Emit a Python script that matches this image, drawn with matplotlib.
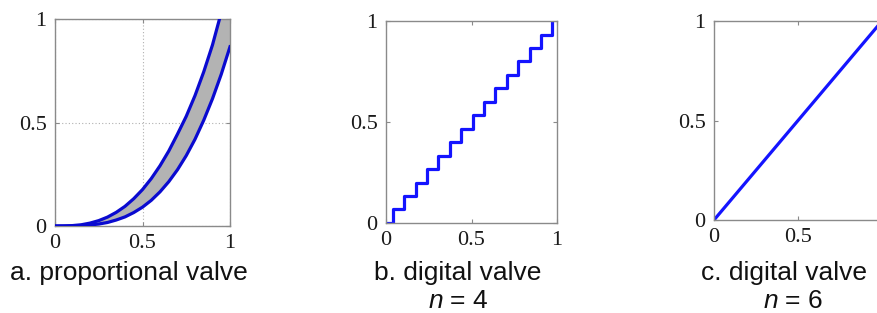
import matplotlib
matplotlib.use("Agg")
import matplotlib.pyplot as plt

plt.rcParams['mathtext.fontset'] = 'custom'
plt.rcParams['mathtext.it'] = 'Liberation Sans:italic'
plt.rcParams['mathtext.rm'] = 'Liberation Sans'

# ---- data ----
# a. proportional valve: upper / lower flow characteristic band
upper_x = [0.0, 0.05, 0.1, 0.15, 0.2, 0.25, 0.3, 0.35, 0.4, 0.45, 0.5,
           0.55, 0.6, 0.65, 0.7, 0.75, 0.8, 0.85, 0.9, 0.94]
upper_y = [0.0, 0.0003, 0.002, 0.006, 0.014, 0.026, 0.043, 0.066, 0.095, 0.132, 0.176,
           0.229, 0.291, 0.362, 0.444, 0.530, 0.630, 0.745, 0.875, 1.0]
lower_x = [0.0, 0.05, 0.1, 0.15, 0.2, 0.25, 0.3, 0.35, 0.4, 0.45, 0.5,
           0.55, 0.6, 0.65, 0.7, 0.75, 0.8, 0.85, 0.9, 0.95, 1.0]
lower_y = [0.0, 0.0001, 0.0005, 0.002, 0.005, 0.0095, 0.017, 0.029, 0.044, 0.065, 0.091,
           0.124, 0.165, 0.214, 0.272, 0.340, 0.419, 0.511, 0.615, 0.733, 0.866]

# b. digital valve n = 4 (15 steps)
step_x = [0.0, 0.04, 0.107, 0.173, 0.24, 0.307, 0.373, 0.44, 0.507, 0.573,
          0.64, 0.707, 0.773, 0.84, 0.907, 0.973]
step_y = [0.0, 0.067, 0.133, 0.2, 0.267, 0.333, 0.4, 0.467, 0.533, 0.6,
          0.667, 0.733, 0.8, 0.867, 0.933, 1.0]

# c. digital valve n = 6 (practically linear)
lin_x = [0.0, 1.0]
lin_y = [0.0, 1.0]

ticks = [0, 0.5, 1]
tick_labels = ['0', '0.5', '1']
captions = ['a. proportional valve', 'b. digital valve', 'c. digital valve']
subcaptions = ['', '$n$ = 4', '$n$ = 6']

# ---- figure ----
W, H = 877, 313
fig = plt.figure(figsize=(W / 100, H / 100), dpi=100)

def px_axes(left, right, top, bottom):
    return fig.add_axes([left / W, 1 - bottom / H, (right - left) / W, (bottom - top) / H])

axA = px_axes(55, 230, 19, 226)
axB = px_axes(386, 557, 21, 223)
axC = px_axes(714, 882, 21, 220)

spine_col = '#8a8a8a'
for ax in (axA, axB, axC):
    ax.set_xlim(0, 1)
    ax.set_ylim(0, 1)
    ax.set_xticks(ticks)
    ax.set_yticks(ticks)
    ax.set_xticklabels(tick_labels)
    ax.set_yticklabels(tick_labels)
    ax.tick_params(direction='in', length=3, width=0.8, color=spine_col,
                   top=True, right=True, labelsize=16, pad=6, labelcolor='#1a1a1a')
    for lab in ax.get_xticklabels() + ax.get_yticklabels():
        lab.set_fontfamily('Liberation Serif')
    for s in ax.spines.values():
        s.set_color(spine_col)
        s.set_linewidth(1.0)

# the x=1 label of panel c lies outside the visible (cropped) figure
axC.get_xticklabels()[-1].set_visible(False)

# panel a
axA.grid(True, linestyle=(0, (1, 2)), color='#b0b0b0', linewidth=0.8)
poly_x = upper_x + [1.0] + lower_x[::-1]
poly_y = upper_y + [1.0] + lower_y[::-1]
axA.fill(poly_x, poly_y, color='#b3b3b3', zorder=2, linewidth=0)
axA.plot(upper_x, upper_y, color='#0a0ad0', lw=2.3, zorder=3)
axA.plot(lower_x, lower_y, color='#0a0ad0', lw=2.3, zorder=3)

# panel b
axB.step(step_x, step_y, where='post', color='#1414ff', lw=2.3)

# panel c
axC.plot(lin_x, lin_y, color='#1414ff', lw=2.3)

# captions
cap_pos = [(129, 280), (458, 280), (784, 280)]
sub_pos = [(129, 308), (458, 308), (793, 308)]
for (cx, cy), t in zip(cap_pos, captions):
    fig.text(cx / W, 1 - cy / H, t, ha='center', va='baseline',
             fontsize=19, family='Liberation Sans', color='#111111')
for (cx, cy), t in zip(sub_pos, subcaptions):
    if t:
        fig.text(cx / W, 1 - cy / H, t, ha='center', va='baseline',
                 fontsize=19, family='Liberation Sans', color='#111111')

fig.savefig('out.png', dpi=100)
